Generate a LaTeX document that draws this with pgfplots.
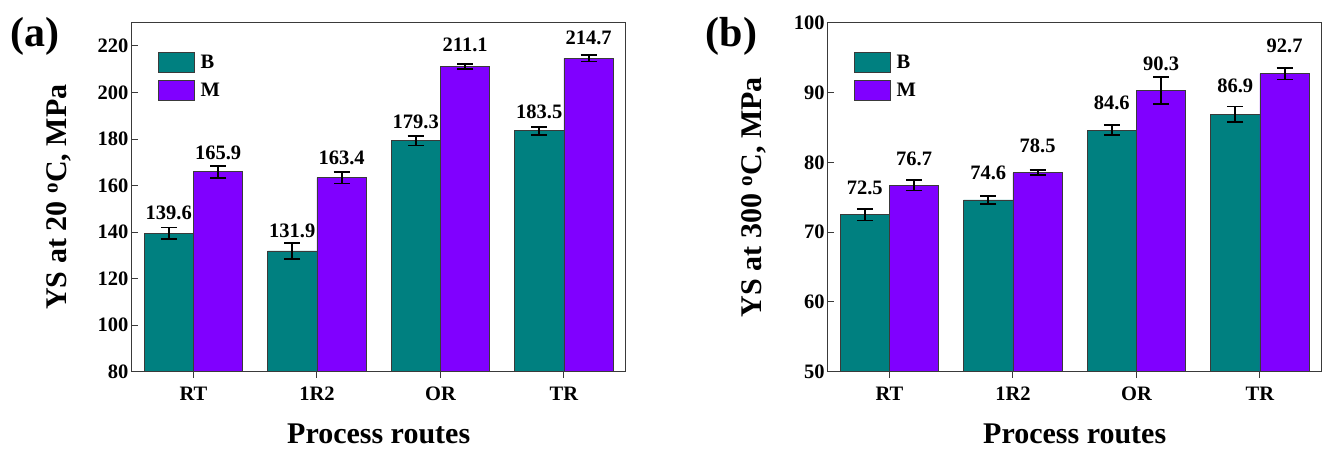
\documentclass[border=0pt]{standalone}
\usepackage{pgfplots}
\pgfplotsset{compat=1.18}
\usepackage{pgfplotstable}
\usepackage{fontspec}
\setmainfont{Liberation Serif}
\definecolor{cB}{HTML}{008080}
\definecolor{cM}{HTML}{8000FF}
\definecolor{spine}{HTML}{3A3A3A}

\pgfplotstableread{
x b be bl m me ml
0 139.6 2.4 145.1 165.9 2.5 171.2
1 131.9 3.3 137.3 163.4 2.5 168.8
2 179.3 2.1 184.5 211.1 1.1 217.4
3 183.5 1.6 188.8 214.7 1.4 220.6
}\dataA

\pgfplotstableread{
x b be bl m me ml
0 72.5 0.84 75.3 76.7 0.74 79.5
1 74.6 0.52 77.5 78.5 0.36 81.3
2 84.6 0.72 87.5 90.3 1.91 93.1
3 86.9 1.10 89.9 92.7 0.84 95.6
}\dataB

\pgfkeys{/pgf/number format/assume math mode=true}

\pgfplotsset{
  panel/.style={
    scale only axis,
    width=494pt, height=349pt,
    anchor=south west,
    xmin=-0.5, xmax=3.5,
    xtick={0,1,2,3},
    xticklabels={RT,1R2,OR,TR},
    axis line style={spine, line width=1pt},
    tick align=inside,
    major tick length=6pt,
    xtick pos=bottom, ytick pos=left,
    tick style={spine, line width=1pt},
    xtick style={yshift=-6pt},
    minor tick num=0,
    ticklabel style={font=\fontsize{20.5}{24}\selectfont\bfseries},
    xticklabel style={inner sep=0pt, anchor=north, yshift=-15.3pt},
    yticklabel style={inner sep=0pt, anchor=east, xshift=-3pt},
    label style={font=\fontsize{30}{36}\selectfont\bfseries},
    xlabel={Process routes},
    xlabel style={at={(axis description cs:0.5,-0.1785)}, anchor=center, inner sep=0pt},
    ylabel style={anchor=center, inner sep=0pt, rotate=0},
    legend style={draw=none, fill=none, inner sep=0pt, outer sep=0pt,
      at={(axis description cs:0.053,0.9152)}, anchor=north west,
      row sep=6.7pt, column sep=6pt,
      font=\fontsize{20.5}{24}\selectfont\bfseries,
      nodes={inner sep=0pt, anchor=west}},
    legend cell align=left,
    legend image code/.code={\draw[#1] (0pt,-10pt) rectangle (36pt,10pt);},
    scaled y ticks=false,
    clip=false,
  },
  barB/.style={ybar, bar width=0.4, bar shift=-0.2, fill=cB, draw=spine, line width=0.8pt},
  barM/.style={ybar, bar width=0.4, bar shift=0.2, fill=cM, draw=spine, line width=0.8pt},
  err/.style={forget plot, draw=none, mark=none,
    error bars/.cd, y dir=both, y explicit,
    error bar style={line width=1.8pt, black, solid},
    error mark=|,
    error mark options={line width=1.8pt, mark size=8pt, black, solid}},
  lab/.style={only marks, mark=none, forget plot, point meta=explicit,
    nodes near coords={\pgfmathprintnumber[fixed,fixed zerofill,precision=1]{\pgfplotspointmeta}},
    nodes near coords style={anchor=south, inner sep=0pt, black, font=\fontsize{20.5}{24}\selectfont\bfseries}},
}

\begin{document}
\begin{tikzpicture}
\useasboundingbox (0,0) rectangle (1323pt,448pt);

\begin{axis}[panel, at={(131.7pt,76.3pt)},
  ymin=80, ymax=230, ytick={80,100,...,220},
  ylabel={YS at 20 \textsuperscript{o}C, MPa},
  ylabel style={at={(axis description cs:-0.147,0.5)}},
]
\addplot[barB] table[x=x, y=b] {\dataA};
\addlegendentry{B}
\addplot[barM] table[x=x, y=m] {\dataA};
\addlegendentry{M}
\addplot[err] table[x expr=\thisrow{x}-0.2, y=b, y error=be] {\dataA};
\addplot[err] table[x expr=\thisrow{x}+0.2, y=m, y error=me] {\dataA};
\addplot[lab] table[x expr=\thisrow{x}-0.2, y=bl, meta=b] {\dataA};
\addplot[lab] table[x expr=\thisrow{x}+0.2, y=ml, meta=m] {\dataA};
\node[font=\fontsize{42}{48}\selectfont\bfseries, anchor=center] at (axis description cs:-0.196,0.960) {(a)};
\end{axis}

\begin{axis}[panel, at={(827.7pt,76.3pt)},
  ymin=50, ymax=100, ytick={50,60,...,100},
  ylabel={YS at 300 \textsuperscript{o}C, MPa},
  ylabel style={at={(axis description cs:-0.150,0.5)}},
]
\addplot[barB] table[x=x, y=b] {\dataB};
\addlegendentry{B}
\addplot[barM] table[x=x, y=m] {\dataB};
\addlegendentry{M}
\addplot[err] table[x expr=\thisrow{x}-0.2, y=b, y error=be] {\dataB};
\addplot[err] table[x expr=\thisrow{x}+0.2, y=m, y error=me] {\dataB};
\addplot[lab] table[x expr=\thisrow{x}-0.2, y=bl, meta=b] {\dataB};
\addplot[lab] table[x expr=\thisrow{x}+0.2, y=ml, meta=m] {\dataB};
\node[font=\fontsize{42}{48}\selectfont\bfseries, anchor=center] at (axis description cs:-0.195,0.960) {(b)};
\end{axis}
\end{tikzpicture}
\end{document}
